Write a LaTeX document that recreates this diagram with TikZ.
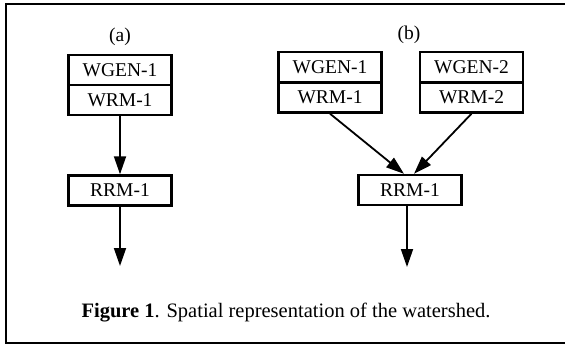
\documentclass[tikz,border=0pt]{standalone}
\usepackage{fontspec}
\setmainfont{Liberation Serif}
\usetikzlibrary{arrows.meta,calc}
\begin{document}
\begin{tikzpicture}[x=1pt,y=-1pt,
  mbox/.style={draw,line width=2.4pt,minimum width=103pt,minimum height=30pt,inner sep=0pt,font=\fontsize{19.5}{21}\selectfont},
  flow/.style={line width=1.8pt,-{Triangle[length=18pt,width=12pt]}},
  lbl/.style={font=\fontsize{19.5}{21}\selectfont}]
\useasboundingbox (0,0) rectangle (565,346);
\draw[line width=1.8pt] (565,4) -- (6,4) -- (6,343) -- (565,343);
% (a)
\node[lbl] (la) at (120,37) {(a)};
\node[mbox] (ga) at (120,70) {WGEN-1};
\node[mbox] (wa) at (120,100) {WRM-1};
\node[mbox] (ra) at (120,190.5) {RRM-1};
\coordinate (oa) at (120,266);
\draw[flow] (wa.south) -- (ra.north);
\draw[flow] (ra.south) -- (oa);
% (b)
\node[lbl] (lb) at (409,35) {(b)};
\node[mbox] (g1) at (330,67) {WGEN-1};
\node[mbox] (w1) at (330,97.5) {WRM-1};
\node[mbox] (g2) at (471.5,67) {WGEN-2};
\node[mbox] (w2) at (471.5,97.5) {WRM-2};
\node[mbox] (rb) at (410,190) {RRM-1};
\coordinate (ob) at (407,267);
\draw[flow] (w1.south) -- ($(rb.north)+(-6,0)$);
\draw[flow] (w2.south) -- ($(rb.north)+(4,0)$);
\draw[flow] (rb.south -| ob) -- (ob);
% caption
\node[font=\fontsize{20.5}{22}\selectfont,anchor=west] (cap) at (78,313) {\textbf{Figure 1}. Spatial representation of the watershed.};
\end{tikzpicture}
\end{document}
